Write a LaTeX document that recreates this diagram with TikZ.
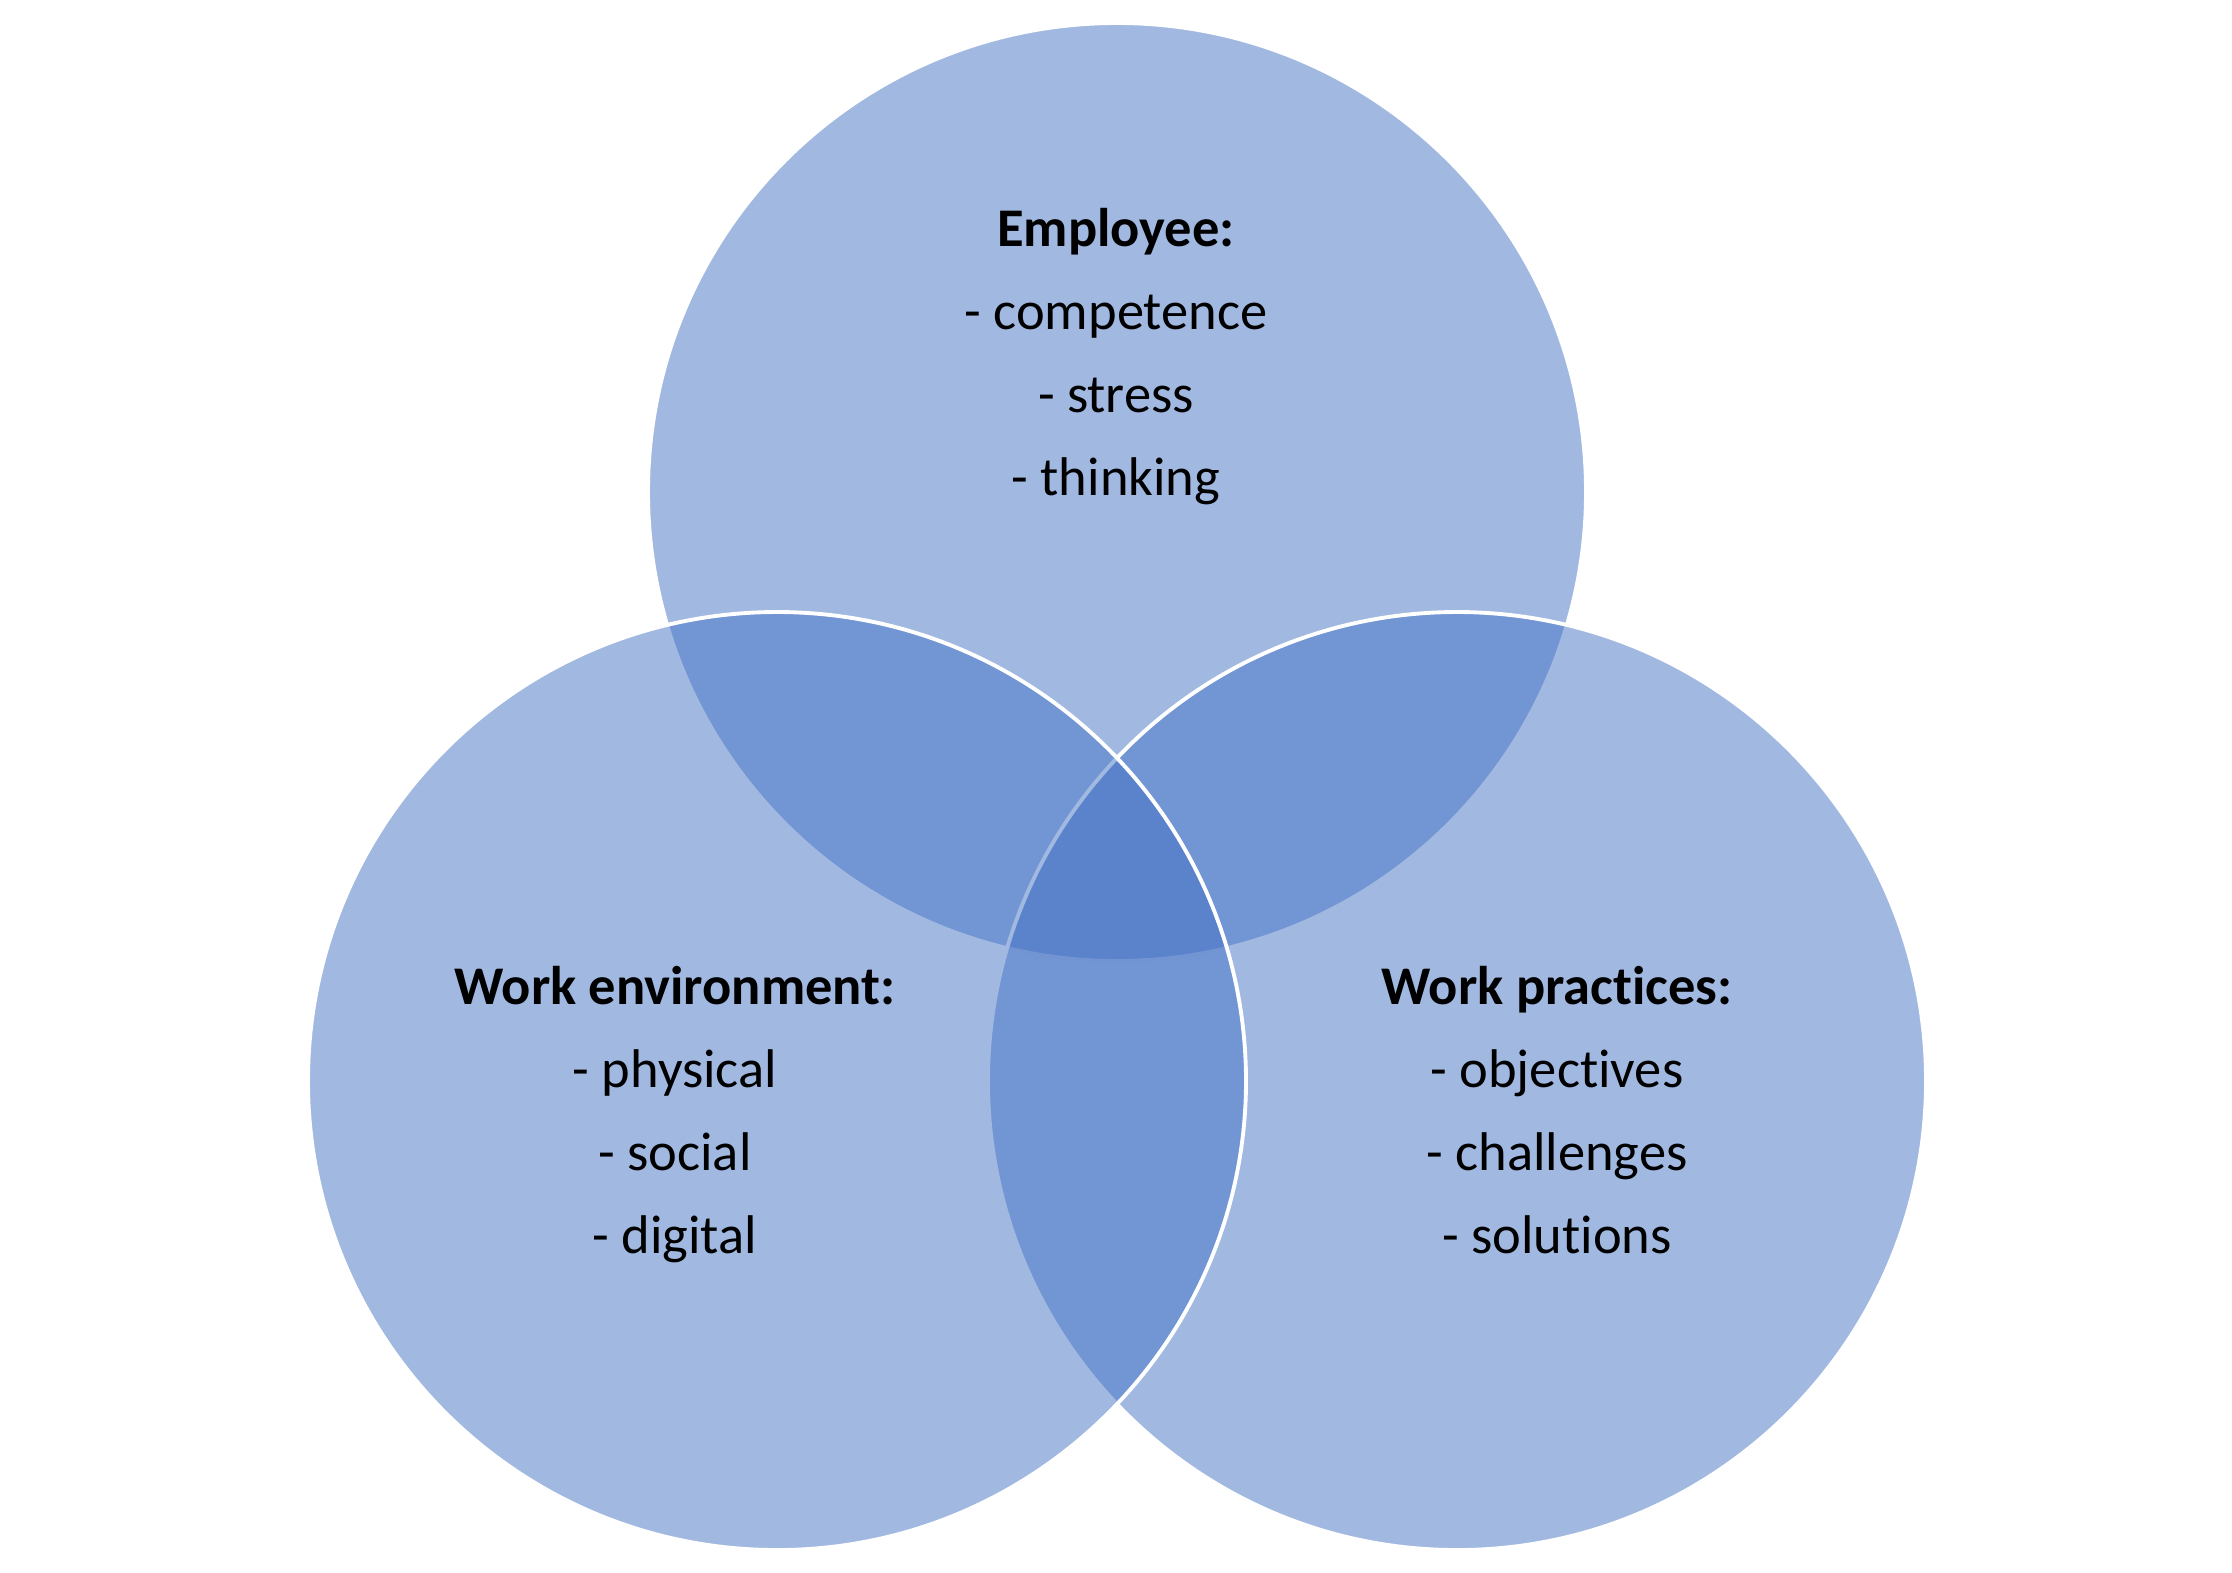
\documentclass[tikz,border=0pt]{standalone}
\usepackage{fontspec}
\setmainfont{Carlito}[Ligatures=NoCommon]
\usetikzlibrary{positioning, calc}
\definecolor{myblue}{HTML}{4472C4}
\tikzset{
   mycircle/.style={circle, draw=white, line width=1.1pt, fill=myblue, fill opacity=.5, minimum size=9.38cm, inner sep=0pt},
   mytext/.style={align=center, inner sep=0pt, anchor=base, font=\fontsize{15.5}{23.6}\selectfont}
}
\begin{document}
\begin{tikzpicture}
   \useasboundingbox (0,0) rectangle (22.32,-15.72);
   % circles: top first, left one last
   \node[mycircle] (employee) at (11.17,-4.92) {};
   \node[mycircle] (practices) at (14.57,-10.81) {};
   \node[mycircle] (environment) at (7.77,-10.81) {};
   % texts
   \node[mytext] (employeetext) at ($(employee)+(-0.01,-0.03)$) {\textbf{Employee:}\\- competence\\- stress\\- thinking};
   \node[mytext] (environmenttext) at ($(environment)+(-1.02,-1.72)$) {\textbf{Work environment:}\\- physical\\- social\\- digital};
   \node[mytext] (practicestext) at ($(practices)+(1.00,-1.72)$) {\textbf{Work practices:}\\- objectives\\- challenges\\- solutions};
\end{tikzpicture}
\end{document}
